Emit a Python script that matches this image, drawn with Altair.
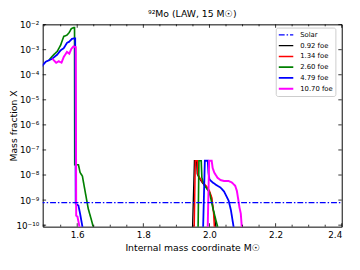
import json
import altair as alt
import pandas as pd

# ---------------- data ----------------
series_order = ["Solar", "0.92 foe", "1.34 foe", "2.60 foe", "4.79 foe", "10.70 foe"]
series_colors = ["#0000ff", "#000000", "#ff0000", "#008000", "#0000ff", "#ff00ff"]

# mass coordinate (Msun) and log10 of mass fraction
black_m = [1.9480, 1.9545, 1.9610, 1.9630, 1.9680, 1.9780, 1.9880, 1.9980, 2.0060, 2.0130, 2.0194, 2.0210]
black_x = [-10.5, -7.43, -7.43, -7.95, -8.10, -8.30, -8.45, -8.65, -8.90, -9.50, -10.05, -10.5]

red_m = [1.9533, 1.9572, 1.9631, 1.9652, 1.9702, 1.9800, 1.9898, 1.9999, 2.0067, 2.0126, 2.0147, 2.0160]
red_x = [-10.5, -7.43, -7.43, -7.98, -8.10, -8.30, -8.43, -8.63, -8.89, -9.54, -10.05, -10.5]

green_m = [1.5148, 1.5246, 1.5394, 1.5495, 1.5593, 1.5690, 1.5761, 1.5821, 1.5889, 1.5919,
           1.5925, 1.6037, 1.6087, 1.6156, 1.6236, 1.6333, 1.6431, 1.6481, 1.6550,
           1.9652, 1.9681, 1.9750, 1.9770, 1.9830, 1.9898, 2.0000, 2.0096, 2.0194, 2.0244, 2.0260]
green_x = [-3.41, -3.26, -3.07, -2.83, -2.47, -2.42, -2.31, -2.16, -2.12, -2.12,
           -7.59, -7.59, -7.90, -8.04, -8.63, -9.34, -9.80, -10.05, -10.5,
           -10.5, -7.43, -7.43, -8.10, -8.37, -8.50, -8.69, -9.28, -9.80, -10.05, -10.5]

blue_m = [1.4900, 1.4941, 1.5050, 1.5246, 1.5394, 1.5495, 1.5593, 1.5690, 1.5761, 1.5839, 1.5898, 1.5939,
          1.5954, 1.6037, 1.6087, 1.6156, 1.6200,
          1.9800, 1.9860, 1.9948, 1.9969, 1.9999, 2.0096, 2.0244, 2.0333, 2.0443, 2.0579, 2.0650, 2.0727, 2.0750]
blue_x = [-3.70, -3.64, -3.48, -3.36, -3.20, -3.03, -2.94, -2.73, -2.68, -2.57, -2.55, -2.55,
          -9.15, -9.22, -9.54, -10.05, -10.5,
          -10.5, -7.43, -7.43, -7.91, -8.17, -8.30, -8.43, -8.50, -8.66, -9.02, -9.41, -10.05, -10.5]

magenta_m = [1.5246, 1.5364, 1.5444, 1.5524, 1.5593, 1.5690, 1.5761, 1.5821, 1.5889, 1.5957,
             1.5969, 1.6007, 1.6067, 1.6100,
             1.9940, 1.9990, 2.0067, 2.0096, 2.0147, 2.0244, 2.0333, 2.0443, 2.0580, 2.0680,
             2.0778, 2.0828, 2.0876, 2.0905, 2.0947, 2.0976, 2.0990]
magenta_x = [-3.36, -3.52, -3.46, -3.52, -3.29, -3.09, -3.16, -2.97, -2.87, -2.90,
             -9.62, -9.66, -10.05, -10.5,
             -10.5, -7.43, -7.43, -7.72, -7.91, -8.11, -8.20, -8.24, -8.24, -8.30,
             -8.43, -8.63, -9.02, -9.28, -9.54, -10.05, -10.5]

solar_m = [1.45, 2.45]
solar_x = [-9.1, -9.1]

x_major = [1.6, 1.8, 2.0, 2.2, 2.4]
x_minor = [1.50, 1.55, 1.65, 1.70, 1.75, 1.85, 1.90, 1.95, 2.05, 2.10, 2.15, 2.25, 2.30, 2.35]
y_major = [-10, -9, -8, -7, -6, -5, -4, -3, -2]
y_labels = ["10⁻¹⁰", "10⁻⁹", "10⁻⁸", "10⁻⁷", "10⁻⁶", "10⁻⁵", "10⁻⁴", "10⁻³", "10⁻²"]

# ---------------- tables ----------------
rows = []
for name, ms, xs in [("0.92 foe", black_m, black_x), ("1.34 foe", red_m, red_x),
                     ("2.60 foe", green_m, green_x), ("4.79 foe", blue_m, blue_x),
                     ("10.70 foe", magenta_m, magenta_x), ("Solar", solar_m, solar_x)]:
    for i, (m, x) in enumerate(zip(ms, xs)):
        rows.append({"series": name, "mass": m, "logX": x, "idx": i})
df = pd.DataFrame(rows)

W, H = 306, 207
FONT = "DejaVu Sans"

xscale = alt.Scale(domain=[1.4956, 2.4], nice=False, zero=False)
yscale = alt.Scale(domain=[-10.06, -1.99], nice=False, zero=False)

label_expr = json.dumps(y_labels, ensure_ascii=False) + "[round(datum.value) + 10]"

x_axis = alt.Axis(values=x_major, format=".1f", ticks=False, domain=False, grid=False,
                  labelFontSize=9, labelPadding=4, labelColor="black",
                  title="Internal mass coordinate M☉", titleFontSize=9.5,
                  titleFontWeight="normal", titlePadding=3, titleColor="black")
y_axis = alt.Axis(values=y_major, labelExpr=label_expr, ticks=False, domain=False, grid=False,
                  labelOverlap=False, labelFontSize=9, labelPadding=4, labelColor="black",
                  title="Mass fraction X", titleFontSize=9.5, titleFontWeight="normal",
                  titleX=-25, titleY=H / 2, titleColor="black")

leg = dict(title=None, orient="none", legendX=238.5, legendY=3.3, symbolType="stroke",
           symbolSize=220, labelFontSize=7, labelOffset=6, rowPadding=0, clipHeight=11,
           padding=2, fillColor="white", strokeColor="#cccccc", cornerRadius=2,
           labelColor="black")

lines = alt.Chart(df).mark_line(clip=True, strokeCap="butt").encode(
    x=alt.X("mass:Q", scale=xscale, axis=x_axis),
    y=alt.Y("logX:Q", scale=yscale, axis=y_axis),
    color=alt.Color("series:N", scale=alt.Scale(domain=series_order, range=series_colors),
                    legend=alt.Legend(**leg)),
    strokeDash=alt.StrokeDash("series:N", scale=alt.Scale(domain=series_order,
                              range=[[6, 2, 1.5, 2], [1, 0], [1, 0], [1, 0], [1, 0], [1, 0]]),
                              legend=alt.Legend(**leg)),
    strokeWidth=alt.StrokeWidth("series:N", scale=alt.Scale(domain=series_order,
                                range=[1.2, 2, 2, 2, 2, 2]),
                                legend=alt.Legend(**leg)),
    order=alt.Order("idx:Q"),
)

df_xmaj = pd.DataFrame({"mass": x_major})
df_xmin = pd.DataFrame({"mass": x_minor})
df_ymaj = pd.DataFrame({"logX": y_major})

def xticks(d, length):
    bottom = alt.Chart(d).mark_rule(color="black", strokeWidth=0.8).encode(
        x=alt.X("mass:Q", scale=xscale, axis=x_axis), y=alt.value(H), y2=alt.value(H - length))
    top = alt.Chart(d).mark_rule(color="black", strokeWidth=0.8).encode(
        x=alt.X("mass:Q", scale=xscale, axis=x_axis), y=alt.value(0), y2=alt.value(length))
    return [bottom, top]

ytl = alt.Chart(df_ymaj).mark_rule(color="black", strokeWidth=0.8).encode(
    y=alt.Y("logX:Q", scale=yscale, axis=y_axis), x=alt.value(0), x2=alt.value(3.5))
ytr = alt.Chart(df_ymaj).mark_rule(color="black", strokeWidth=0.8).encode(
    y=alt.Y("logX:Q", scale=yscale, axis=y_axis), x=alt.value(W), x2=alt.value(W - 3.5))

chart = alt.layer(
    lines, *xticks(df_xmaj, 3.5), *xticks(df_xmin, 2), ytl, ytr
).properties(
    width=W, height=H,
    title=alt.Title("⁹²Mo (LAW, 15 M☉)", fontSize=9.5, fontWeight="normal", offset=2,
                    color="black", font=FONT),
    padding={"left": 35.5, "top": 13.7, "right": 10.5, "bottom": 41.3},
    autosize=alt.AutoSizeParams(type="none"),
).configure(font=FONT).configure_view(stroke="black", strokeWidth=1)

chart.save("out.html", embed_options={"renderer": "svg", "actions": False})
